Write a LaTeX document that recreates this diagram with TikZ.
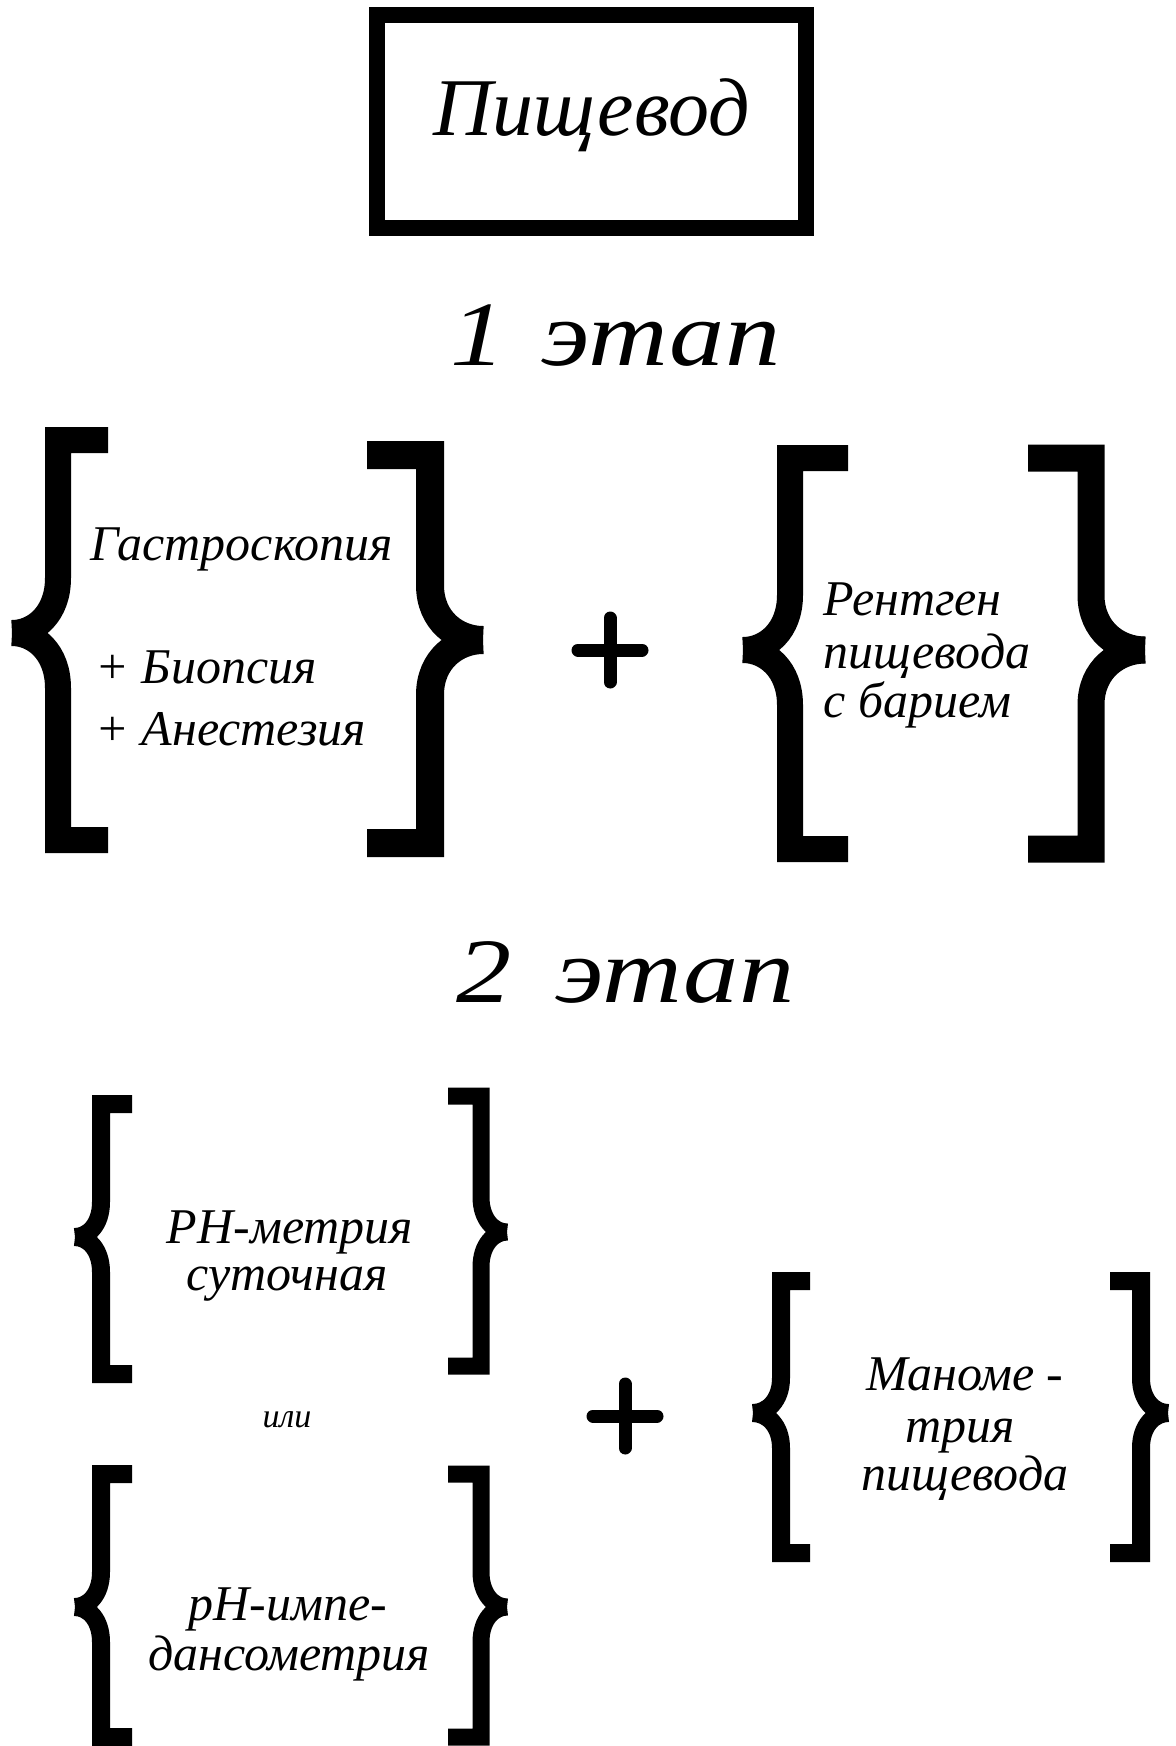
\documentclass[tikz,border=0pt]{standalone}
\usepackage{fontspec}
\setmainfont{Liberation Serif}
\newfontfamily\handfont{Liberation Serif Italic}
\newfontfamily\handwide[FakeStretch=1.2]{Liberation Serif Italic}
\newcommand\brk[8]{%
  \draw[line width=#8, line cap=butt, line join=miter]
    (#2,#3) -- (#1,#3) -- (#1,#6-#7)
    .. controls (#1,#6-0.35*#7) and ({(#1+#5)/2},#6) .. (#5,#6);
  \draw[line width=#8, line cap=butt, line join=miter]
    (#2,#4) -- (#1,#4) -- (#1,#6+#7)
    .. controls (#1,#6+0.35*#7) and ({(#1+#5)/2},#6) .. (#5,#6);
}
\tikzset{
  txt/.style={font=\handfont\fontsize{25}{30}\selectfont, inner sep=0pt},
  stage/.style={font=\handwide\fontsize{46}{50}\selectfont, inner sep=0pt, anchor=base west},
  plus/.style={line width=6.5pt, line cap=round},
}
\begin{document}
\begin{tikzpicture}[x=0.5pt, y=-0.5pt]
\path[use as bounding box, fill=white] (0,0) rectangle (1176,1746);

% title box
\draw[line width=8pt] (377,15) rectangle (806,228);
\node[font=\handfont\fontsize{41}{44}\selectfont, inner sep=0pt, anchor=base] (title) at (592,135) {Пищевод};

% stage 1
\node[stage] (st1) at (450,365) {1\hspace{18pt}этап};

\brk{58}{108}{440}{840}{12}{633}{55}{13pt}
\brk{430}{367}{455}{843}{483}{640}{55}{14pt}
\node[txt, anchor=base west] (g1) at (90,560) {Гастроскопия};
\node[txt, anchor=base west] (g2) at (95,683) {+ Биопсия};
\node[txt, anchor=base west] (g3) at (95,745) {+ Анестезия};

\coordinate (p1) at (610,650);
\draw[plus] (p1) +(-32,0) -- +(32,0);
\draw[plus] (p1) +(0,-32) -- +(0,32);

\brk{790}{848}{458}{849}{743}{650}{55}{13pt}
\brk{1091}{1028}{458}{849}{1145}{650}{55}{13.5pt}
\node[txt, anchor=base west] (r1) at (823,615) {Рентген};
\node[txt, anchor=base west] (r2) at (823,668) {пищевода};
\node[txt, anchor=base west] (r3) at (823,717) {с барием};

% stage 2
\node[stage] (st2) at (456,1002) {2\hspace{22pt}этап};

\brk{101}{132}{1104}{1374}{75}{1237}{35}{9pt}
\brk{481}{448}{1096}{1366}{507}{1232}{35}{8.5pt}
\node[txt, anchor=base] (ph1) at (290,1243) {PH-метрия};
\node[txt, anchor=base] (ph2) at (287,1290) {суточная};

\node[txt, font=\handfont\fontsize{17}{20}\selectfont, anchor=base] (ili) at (287,1427) {или};

\brk{101}{132}{1474}{1737}{75}{1607}{35}{9pt}
\brk{481}{448}{1474}{1737}{507}{1607}{35}{8.5pt}
\node[txt, anchor=base] (im1) at (288,1620) {pH-импе-};
\node[txt, anchor=base] (im2) at (289,1670) {дансометрия};

\coordinate (p2) at (625,1416);
\draw[plus] (p2) +(-32,0) -- +(32,0);
\draw[plus] (p2) +(0,-32) -- +(0,32);

\brk{781}{810}{1281}{1553}{753}{1413}{35}{9pt}
\brk{1141}{1110}{1281}{1553}{1168}{1413}{35}{9pt}
\node[txt, anchor=base] (m1) at (965,1390) {Маноме -};
\node[txt, anchor=base] (m2) at (960,1442) {трия};
\node[txt, anchor=base] (m3) at (965,1490) {пищевода};
\end{tikzpicture}
\end{document}
